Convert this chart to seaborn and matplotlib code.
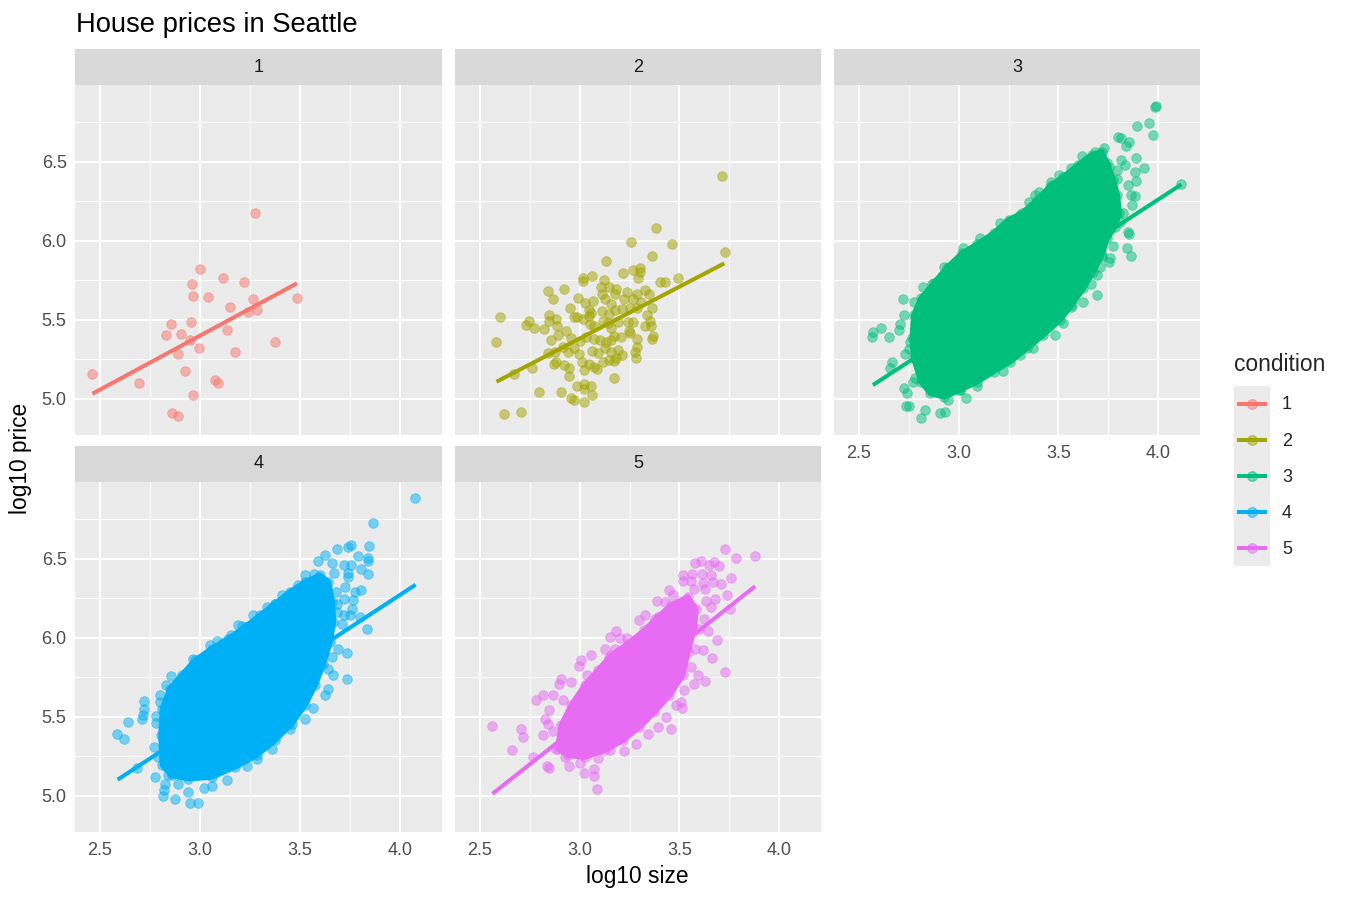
import pandas as pd
import seaborn as sns
import matplotlib.pyplot as plt

# conditions and ggplot default hue colours
conditions = ["1", "2", "3", "4", "5"]
palette = ["#F8766D", "#A3A500", "#00BF7D", "#00B0F6", "#E76BF3"]

# (log10 size, log10 price)
c1_points = [(2.458, 5.156), (2.697, 5.101), (3.277, 6.177), (3.002, 5.821), (3.115, 5.764),
             (3.218, 5.743), (2.960, 5.730), (2.965, 5.652), (3.038, 5.648), (3.267, 5.635),
             (3.487, 5.639), (3.152, 5.582), (3.242, 5.551), (3.285, 5.565), (2.855, 5.473),
             (2.957, 5.487), (2.828, 5.405), (2.905, 5.409), (2.950, 5.372), (3.137, 5.435),
             (2.993, 5.325), (2.890, 5.283), (3.175, 5.296), (3.373, 5.359), (2.925, 5.179),
             (3.075, 5.118), (3.088, 5.099), (2.965, 5.025), (2.858, 4.911), (2.890, 4.894)]

c2_points = [(3.713, 6.411), (3.383, 6.080), (3.257, 5.991), (3.463, 5.979), (3.727, 5.932),
             (3.362, 5.905), (3.130, 5.871), (3.215, 5.795), (3.268, 5.816), (3.305, 5.831),
             (3.302, 5.801), (3.292, 5.763), (3.063, 5.780), (3.015, 5.768), (3.015, 5.747),
             (3.123, 5.753), (3.403, 5.742), (3.428, 5.742), (3.495, 5.768), (2.842, 5.685),
             (2.920, 5.694), (2.865, 5.633), (3.108, 5.706), (3.147, 5.711), (3.180, 5.696),
             (3.112, 5.662), (3.178, 5.664), (3.238, 5.679), (3.285, 5.666), (3.328, 5.687),
             (3.347, 5.664), (2.993, 5.637), (3.027, 5.609), (3.067, 5.622), (3.127, 5.630),
             (3.158, 5.603), (3.223, 5.633), (3.268, 5.630), (3.308, 5.616), (2.950, 5.574),
             (3.048, 5.563), (3.057, 5.542), (3.110, 5.557), (3.145, 5.540), (3.175, 5.563),
             (3.212, 5.571), (3.250, 5.578), (3.288, 5.578), (3.363, 5.574), (2.603, 5.517),
             (2.745, 5.496), (2.730, 5.468), (2.770, 5.449), (2.848, 5.531), (2.847, 5.493),
             (2.883, 5.504), (2.972, 5.517), (2.987, 5.521), (3.017, 5.506), (3.047, 5.525),
             (3.340, 5.531), (2.822, 5.441), (2.888, 5.460), (2.930, 5.432), (3.050, 5.472),
             (3.073, 5.464), (3.115, 5.491), (3.140, 5.479), (3.192, 5.485), (3.242, 5.489),
             (3.268, 5.485), (3.330, 5.462), (3.358, 5.464), (3.352, 5.493), (3.362, 5.379),
             (3.370, 5.400), (3.245, 5.430), (3.253, 5.417), (3.157, 5.447), (3.172, 5.400),
             (3.287, 5.379), (2.580, 5.360), (2.858, 5.373), (2.893, 5.405), (2.958, 5.388),
             (3.000, 5.367), (3.032, 5.392), (3.072, 5.379), (3.102, 5.371), (3.130, 5.358),
             (3.158, 5.371), (3.208, 5.392), (2.842, 5.289), (2.875, 5.299), (2.915, 5.327),
             (2.942, 5.299), (2.970, 5.320), (2.995, 5.282), (3.063, 5.303), (3.092, 5.289),
             (3.125, 5.320), (3.158, 5.299), (3.192, 5.310), (3.213, 5.278), (3.288, 5.331),
             (3.275, 5.299), (3.282, 5.257), (2.872, 5.219), (2.882, 5.236), (2.922, 5.215),
             (2.945, 5.198), (3.010, 5.236), (3.022, 5.183), (3.045, 5.219), (3.073, 5.204),
             (3.088, 5.190), (3.117, 5.236), (3.145, 5.244), (3.170, 5.240), (3.183, 5.257),
             (2.670, 5.160), (2.762, 5.194), (2.945, 5.147), (3.173, 5.130), (2.797, 5.046),
             (2.908, 5.046), (2.987, 5.082), (3.023, 5.095), (3.057, 5.080), (3.023, 5.063),
             (3.060, 5.025), (2.955, 5.004), (2.970, 4.996), (3.022, 4.981), (2.623, 4.905),
             (2.708, 4.920)]

c3_points = [(3.983, 6.846), (3.988, 6.852), (3.892, 6.730), (3.952, 6.749), (3.972, 6.671),
             (3.800, 6.656), (3.812, 6.649), (3.855, 6.624), (3.838, 6.601), (3.730, 6.586),
             (3.683, 6.565), (3.617, 6.536), (3.888, 6.523), (3.927, 6.464), (3.812, 6.510),
             (3.835, 6.481), (3.883, 6.434), (3.792, 6.449), (3.887, 6.382), (3.848, 6.352),
             (3.752, 6.466), (3.795, 6.392), (3.755, 6.354), (3.865, 6.291), (3.883, 6.287),
             (3.870, 6.230), (3.825, 6.175), (3.808, 6.122), (3.850, 6.059), (3.855, 6.046),
             (3.842, 5.953), (3.863, 5.905), (3.775, 5.966), (3.758, 5.890), (3.718, 5.901),
             (3.752, 5.869), (3.708, 5.837), (3.692, 5.785), (3.663, 5.728), (3.693, 5.658),
             (3.625, 5.616), (3.563, 5.584), (3.522, 5.479), (3.482, 5.405), (3.375, 5.320),
             (3.308, 5.278), (3.222, 5.177), (3.092, 5.082), (3.038, 5.004), (3.008, 5.057),
             (2.947, 4.993), (2.933, 4.920), (2.908, 4.909), (2.833, 4.930), (2.813, 4.877),
             (2.738, 4.957), (2.750, 4.957), (2.728, 5.067), (2.742, 5.036), (2.772, 5.109),
             (2.780, 5.130), (2.668, 5.236), (2.658, 5.194), (2.732, 5.282), (2.752, 5.314),
             (2.758, 5.363), (2.613, 5.451), (2.567, 5.390), (2.572, 5.426), (2.653, 5.394),
             (2.705, 5.472), (2.702, 5.436), (2.725, 5.531), (2.722, 5.633), (2.775, 5.616),
             (2.822, 5.711), (2.868, 5.726), (2.925, 5.837), (2.950, 5.837), (3.020, 5.953),
             (3.050, 5.932), (3.108, 6.021), (3.158, 5.995), (3.208, 6.116), (3.242, 6.059),
             (3.283, 6.090), (3.307, 6.164), (3.345, 6.164), (3.353, 6.249), (3.383, 6.291),
             (3.405, 6.312), (3.463, 6.375), (3.503, 6.417), (3.563, 6.464), (3.642, 6.512),
             (3.467, 6.354), (3.408, 6.238), (4.117, 6.358)]

c4_points = [(4.077, 6.888), (3.867, 6.725), (3.757, 6.590), (3.742, 6.574), (3.845, 6.582),
             (3.683, 6.565), (3.623, 6.523), (3.790, 6.519), (3.842, 6.506), (3.842, 6.489),
             (3.588, 6.489), (3.658, 6.472), (3.722, 6.460), (3.757, 6.464), (3.803, 6.434),
             (3.838, 6.405), (3.672, 6.413), (3.738, 6.413), (3.742, 6.386), (3.525, 6.401),
             (3.570, 6.407), (3.608, 6.354), (3.725, 6.322), (3.803, 6.301), (3.777, 6.291),
             (3.680, 6.291), (3.722, 6.249), (3.767, 6.238), (3.683, 6.217), (3.762, 6.185),
             (3.683, 6.164), (3.722, 6.147), (3.752, 6.143), (3.800, 6.133), (3.708, 6.090),
             (3.835, 6.059), (3.642, 6.017), (3.688, 5.932), (3.735, 5.905), (3.658, 5.879),
             (3.642, 5.806), (3.663, 5.763), (3.733, 5.738), (3.638, 5.679), (3.625, 5.637),
             (3.567, 5.557), (3.525, 5.489), (3.450, 5.426), (3.358, 5.299), (3.283, 5.236),
             (3.233, 5.187), (3.133, 5.103), (3.058, 5.063), (3.018, 5.050), (2.992, 4.958),
             (2.950, 4.955), (2.942, 5.025), (2.875, 4.979), (2.817, 5.000), (2.822, 5.036),
             (2.825, 5.078), (2.775, 5.120), (2.842, 5.130), (2.892, 5.078), (2.687, 5.179),
             (2.792, 5.247), (2.768, 5.310), (2.817, 5.363), (2.622, 5.360), (2.587, 5.392),
             (2.638, 5.466), (2.712, 5.489), (2.715, 5.514), (2.720, 5.552), (2.722, 5.601),
             (2.780, 5.504), (2.780, 5.464), (2.802, 5.637), (2.798, 5.595), (2.828, 5.700),
             (2.855, 5.759), (2.913, 5.730), (2.967, 5.869), (3.050, 5.953), (3.083, 5.979),
             (3.117, 5.970), (3.155, 6.017), (3.192, 6.080), (3.212, 6.074), (3.267, 6.143),
             (3.308, 6.133), (3.337, 6.198), (3.375, 6.217), (3.412, 6.274), (3.488, 6.333)]

c5_points = [(3.730, 6.563), (3.785, 6.506), (3.878, 6.519), (3.578, 6.472), (3.610, 6.489),
             (3.647, 6.464), (3.675, 6.479), (3.697, 6.455), (3.520, 6.401), (3.562, 6.407),
             (3.615, 6.407), (3.660, 6.401), (3.758, 6.379), (3.517, 6.363), (3.558, 6.358),
             (3.618, 6.350), (3.668, 6.354), (3.708, 6.344), (3.450, 6.301), (3.572, 6.308),
             (3.628, 6.308), (3.470, 6.270), (3.737, 6.270), (3.388, 6.232), (3.428, 6.228),
             (3.633, 6.236), (3.680, 6.245), (3.658, 6.196), (3.755, 6.185), (3.300, 6.116),
             (3.330, 6.147), (3.378, 6.122), (3.625, 6.122), (3.600, 6.059), (3.642, 6.044),
             (3.183, 6.044), (3.153, 6.006), (3.203, 6.002), (3.237, 6.000), (3.288, 5.989),
             (3.690, 5.985), (3.128, 5.932), (3.175, 5.932), (3.217, 5.922), (3.618, 5.924),
             (3.577, 5.932), (3.663, 5.876), (3.055, 5.890), (3.008, 5.863), (2.997, 5.823),
             (3.145, 5.873), (3.558, 5.816), (3.728, 5.787), (3.628, 5.728), (3.595, 5.768),
             (3.575, 5.711), (3.525, 5.669), (2.905, 5.742), (2.898, 5.709), (2.958, 5.722),
             (3.035, 5.768), (3.443, 5.663), (3.508, 5.595), (3.483, 5.578), (3.513, 5.559),
             (2.815, 5.641), (2.782, 5.605), (2.865, 5.641), (2.847, 5.542), (2.918, 5.607),
             (2.825, 5.485), (2.842, 5.457), (2.865, 5.409), (2.817, 5.388), (3.457, 5.426),
             (3.435, 5.500), (3.395, 5.436), (3.342, 5.394), (3.283, 5.331), (3.222, 5.282),
             (2.558, 5.443), (2.705, 5.422), (2.715, 5.373), (2.663, 5.289), (2.768, 5.244),
             (2.838, 5.190), (2.848, 5.177), (2.945, 5.187), (3.000, 5.209), (3.023, 5.147),
             (3.073, 5.124), (3.073, 5.168), (3.088, 5.044), (2.925, 5.247), (3.092, 5.240),
             (3.150, 5.289), (2.908, 5.363), (2.883, 5.299)]

# outlines of the regions where thousands of points overlap into a solid mass
c3_core = [(2.812, 5.109), (2.775, 5.257), (2.767, 5.384), (2.775, 5.531), (2.812, 5.637),
           (2.875, 5.732), (2.942, 5.831), (3.017, 5.922), (3.092, 5.979), (3.175, 6.048),
           (3.250, 6.133), (3.317, 6.175), (3.392, 6.259), (3.458, 6.344), (3.525, 6.407),
           (3.600, 6.481), (3.667, 6.544), (3.717, 6.565), (3.745, 6.491), (3.775, 6.386),
           (3.795, 6.291), (3.805, 6.175), (3.783, 6.090), (3.745, 6.017), (3.717, 5.911),
           (3.675, 5.806), (3.625, 5.700), (3.567, 5.595), (3.508, 5.500), (3.425, 5.405),
           (3.342, 5.320), (3.258, 5.236), (3.175, 5.173), (3.092, 5.109), (3.008, 5.057),
           (2.925, 5.014), (2.858, 5.036)]
c4_core = [(2.812, 5.194), (2.805, 5.384), (2.812, 5.552), (2.850, 5.679), (2.908, 5.763),
           (2.975, 5.858), (3.058, 5.932), (3.142, 5.995), (3.225, 6.069), (3.300, 6.143),
           (3.375, 6.217), (3.450, 6.291), (3.525, 6.354), (3.600, 6.396), (3.642, 6.354),
           (3.662, 6.228), (3.667, 6.101), (3.650, 5.974), (3.617, 5.837), (3.575, 5.700),
           (3.525, 5.574), (3.458, 5.457), (3.375, 5.352), (3.283, 5.257), (3.175, 5.183),
           (3.058, 5.120), (2.942, 5.109), (2.858, 5.130)]
c5_core = [(2.892, 5.299), (2.908, 5.447), (2.958, 5.574), (3.025, 5.700), (3.092, 5.795),
           (3.158, 5.890), (3.242, 5.964), (3.325, 6.048), (3.392, 6.133), (3.458, 6.206),
           (3.542, 6.259), (3.583, 6.185), (3.575, 6.059), (3.542, 5.911), (3.517, 5.763),
           (3.450, 5.637), (3.375, 5.531), (3.300, 5.436), (3.217, 5.352), (3.125, 5.289),
           (3.025, 5.246), (2.942, 5.257)]

# lm fit per condition: size range and fitted price at both ends
fit_size_lo = [2.462, 2.583, 2.570, 2.588, 2.563]
fit_size_hi = [3.485, 3.725, 4.117, 4.078, 3.880]
fit_price_lo = [5.033, 5.109, 5.088, 5.103, 5.014]
fit_price_hi = [5.732, 5.858, 6.358, 6.337, 6.327]

x_ticks = [2.5, 3.0, 3.5, 4.0]
y_ticks = [5.0, 5.5, 6.0, 6.5]

points = {"1": c1_points, "2": c2_points, "3": c3_points, "4": c4_points, "5": c5_points}
cores = {"3": c3_core, "4": c4_core, "5": c5_core}

frames = []
for cond, pts in points.items():
    # the edge of each solid mass is itself made of points
    tmp = pd.DataFrame(pts + cores.get(cond, []), columns=["size", "price"])
    tmp["condition"] = cond
    frames.append(tmp)
df = pd.concat(frames, ignore_index=True)

sns.set_theme(style="darkgrid")
plt.rcParams["font.family"] = ["Liberation Sans", "DejaVu Sans"]

W, H = 1350, 900
fig = plt.figure(figsize=(13.5, 9), dpi=100)


def box(l, t, r, b):
    return [l / W, 1 - b / H, (r - l) / W, (b - t) / H]


cols = [(75, 442), (455, 821), (834, 1200)]
rows = [(85, 435), (482, 832)]

for i, cond in enumerate(conditions):
    r, c = divmod(i, 3)
    l, rr = cols[c]
    t, b = rows[r]
    color = palette[i]
    ax = fig.add_axes(box(l, t, rr, b))
    ax.set_facecolor("#EBEBEB")
    for s in ax.spines.values():
        s.set_visible(False)

    if cond in cores:
        cx, cy = zip(*cores[cond])
        ax.fill(cx, cy, color=color, lw=4, ec=color, joinstyle="round", zorder=2)

    sub = df[df["condition"] == cond]
    sns.scatterplot(data=sub, x="size", y="price", color=color, alpha=0.5,
                    s=48, edgecolor=color, linewidth=0.6, ax=ax, zorder=3, legend=False)
    ax.plot([fit_size_lo[i], fit_size_hi[i]], [fit_price_lo[i], fit_price_hi[i]],
            color=color, lw=2.9, solid_capstyle="butt", zorder=4)

    ax.set_xlim(2.375, 4.21)
    ax.set_ylim(4.772, 6.987)
    ax.set_xticks(x_ticks)
    ax.set_yticks(y_ticks)
    ax.set_xticks([2.75, 3.25, 3.75], minor=True)
    ax.set_yticks([5.25, 5.75, 6.25, 6.75], minor=True)
    ax.grid(which="major", color="white", lw=1.5)
    ax.grid(which="minor", color="white", lw=0.75)
    ax.set_axisbelow(True)
    ax.set_xlabel("")
    ax.set_ylabel("")
    ax.tick_params(which="minor", length=0)
    ax.tick_params(which="major", colors="#333333", labelcolor="#4D4D4D",
                   labelsize=13, length=4, width=1.1, pad=2)
    if c != 0:
        ax.tick_params(axis="y", left=False, labelleft=False)
    else:
        ax.set_yticklabels([f"{v:.1f}" for v in y_ticks])
    if i in (2, 3, 4):
        ax.tick_params(axis="x", pad=3)
        ax.set_xticklabels([f"{v:.1f}" for v in x_ticks])
    else:
        ax.tick_params(axis="x", bottom=False, labelbottom=False)

    # facet strip
    sax = fig.add_axes(box(l, t - 36, rr, t))
    sax.set_facecolor("#D9D9D9")
    sax.set_xticks([])
    sax.set_yticks([])
    sax.grid(False)
    for s in sax.spines.values():
        s.set_visible(False)
    sax.text(0.5, 0.5, cond, ha="center", va="center", fontsize=13, color="#1A1A1A",
             transform=sax.transAxes)

fig.text(76 / W, 1 - 31.5 / H, "House prices in Seattle", fontsize=19.7, ha="left",
         va="baseline", color="black")
fig.text(637.5 / W, 1 - 882.5 / H, "log10 size", fontsize=16.4, ha="center",
         va="baseline", color="black")
fig.text(21 / W, 1 - 458 / H, "log10 price", fontsize=16.4, ha="center", va="center",
         rotation=90, color="black")

# legend
fig.text(1234 / W, 1 - 371 / H, "condition", fontsize=16.4, ha="left", va="baseline")
kax = fig.add_axes(box(1234, 386, 1270, 566))
kax.set_facecolor("#EBEBEB")
kax.set_xlim(0, 1)
kax.set_ylim(len(conditions), 0)
kax.set_xticks([])
kax.set_yticks([])
kax.grid(False)
for s in kax.spines.values():
    s.set_visible(False)
for i, cond in enumerate(conditions):
    kax.plot([0.08, 0.92], [i + 0.5, i + 0.5], color=palette[i], lw=2.9, solid_capstyle="butt")
    kax.scatter([0.5], [i + 0.5], s=48, color=palette[i], alpha=0.5, zorder=3)
    fig.text(1282 / W, 1 - (405 + 36 * i) / H, cond, fontsize=13, ha="left", va="center")

fig.savefig("out.png", dpi=100)
